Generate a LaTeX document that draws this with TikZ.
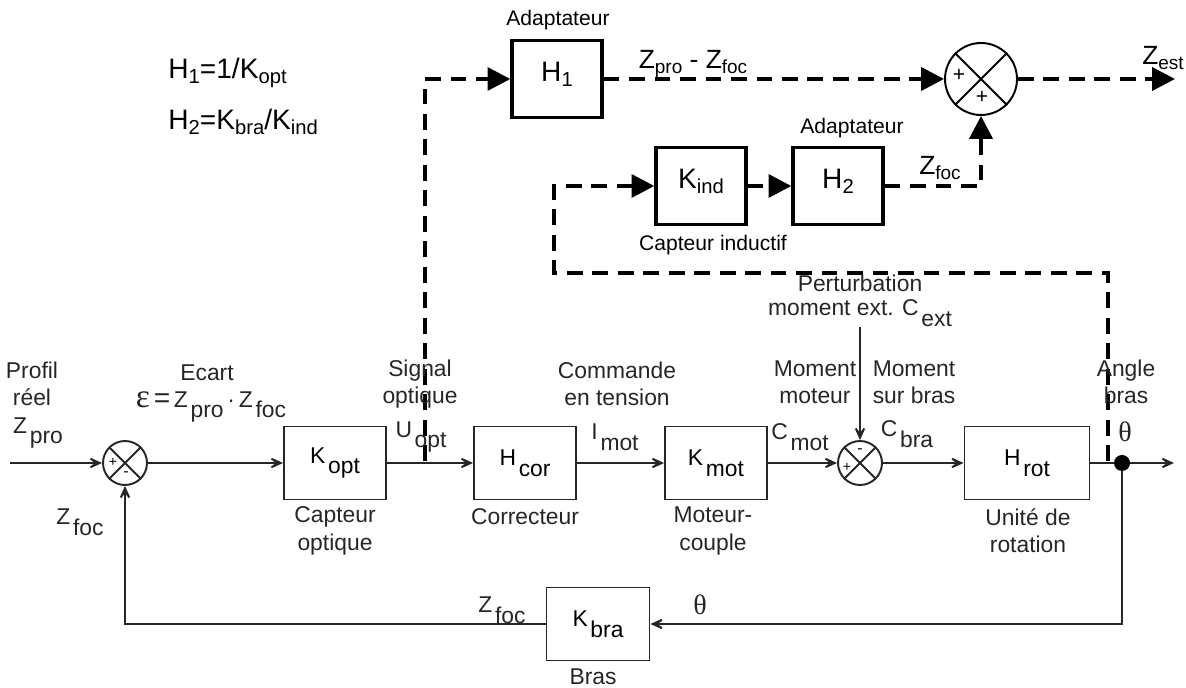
\documentclass[tikz,border=0pt]{standalone}
\usepackage{fontspec,graphicx}
\usetikzlibrary{arrows.meta}
\setmainfont{Liberation Sans}
\newfontfamily\grk{Liberation Serif}
\newcommand{\scanfont}{\fontsize{13}{15.5}\selectfont}
\newcommand{\topidx}[1]{\raisebox{-0.35ex}{\scalebox{0.72}{#1}}}
\newcommand{\basidx}[1]{\hspace{0.12em}\raisebox{-0.9ex}{#1}}

\begin{document}
\begin{tikzpicture}[x=0.02cm,y=-0.02cm,
  every node/.style={inner sep=0pt},
  topbox/.style={draw,line width=1.9pt,minimum width=1.8cm,minimum height=1.53cm,font=\fontsize{16}{18}\selectfont},
  blockbox/.style={draw=black!85,line width=1.1pt,minimum width=2.04cm,minimum height=1.46cm,font=\scanfont},
  sumtop/.style={draw,circle,line width=1.1pt,minimum size=1.44cm},
  sumbot/.style={draw=black!85,circle,line width=1.1pt,minimum size=0.88cm},
  dashlink/.style={line width=2.3pt,dash pattern=on 9pt off 5.5pt,-{Triangle[length=13pt,width=13pt]}},
  link/.style={draw=black!85,line width=1pt,-{Stealth[length=11pt,width=10pt,inset=7pt]}},
  lbl/.style={font=\scanfont,align=center,text=black!85},
  toplbl/.style={font=\fontsize{12}{14}\selectfont},
  zlbl/.style={font=\fontsize{15}{17}\selectfont}]
\useasboundingbox (0,0) rectangle (1186,688);
% estimator formulas
\node[anchor=west,font=\fontsize{16}{18}\selectfont] (hone) at (168,73) {H\topidx{1}=1/K\topidx{opt}};
\node[anchor=west,font=\fontsize{16}{18}\selectfont] (htwo) at (168,122) {H\topidx{2}=K\topidx{bra}/K\topidx{ind}};
% estimator blocks (dashed part)
\node[topbox] (h1) at (557,79) {\raisebox{1ex}{H\topidx{1}}};
\node[toplbl] (adapt1) at (558,20) {Adaptateur};
\node[sumtop] (sumz) at (981,79) {};
\draw[line width=1.1pt] (sumz.north west) -- (sumz.south east) (sumz.north east) -- (sumz.south west);
\node[font=\fontsize{12}{14}\selectfont] (pz1) at (959,75) {+};
\node[font=\fontsize{12}{14}\selectfont] (pz2) at (982,97) {+};
\node[topbox] (kind) at (701,186) {\raisebox{1ex}{K\topidx{ind}}};
\node[topbox] (h2) at (838,186) {\raisebox{1ex}{H\topidx{2}}};
\node[toplbl] (adapt2) at (852,128) {Adaptateur};
\node[toplbl] (capind) at (713,245) {Capteur inductif};
\node[zlbl] (zdiff) at (693,64) {Z\topidx{pro} - Z\topidx{foc}};
\node[zlbl] (zestl) at (1163,58) {Z\topidx{est}};
\node[zlbl] (zfoct) at (940,168) {Z\topidx{foc}};
% main loop blocks
\node[sumbot] (sum1) at (125,463) {};
\draw[black!85,line width=1.1pt] (sum1.north west) -- (sum1.south east) (sum1.north east) -- (sum1.south west);
\node[font=\fontsize{8}{9}\selectfont] (p1) at (113,462) {+};
\node[font=\fontsize{9}{9}\selectfont] (m1) at (126,474) {-};
\node[blockbox] (kopt) at (335,463) {K\basidx{opt}};
\node[blockbox] (hcor) at (525,463) {H\basidx{cor}};
\node[blockbox] (kmot) at (716,463) {K\basidx{mot}};
\node[sumbot] (sum2) at (860,463) {};
\draw[black!85,line width=1.1pt] (sum2.north west) -- (sum2.south east) (sum2.north east) -- (sum2.south west);
\node[font=\fontsize{8}{9}\selectfont] (p2) at (847,467) {+};
\node[font=\fontsize{9}{9}\selectfont] (m2) at (860,451) {-};
\node[blockbox,minimum width=2.5cm] (hrot) at (1027,463) {H\basidx{rot}};
\node[circle,fill=black,minimum size=0.32cm] (dot) at (1122,463) {};
\node[blockbox,minimum width=2.06cm] (kbra) at (598,624) {K\basidx{bra}};
% free ends
\coordinate (zin) at (10,463);
\coordinate (thout) at (1174,463);
\coordinate (cext) at (860,327);
\coordinate (uopt) at (425,461);
\coordinate (thtap) at (1108,461);
\coordinate (loopc) at (554,273);
\coordinate (zest) at (1175,79);
% main loop connectors
\draw[link] (zin) -- (sum1.west);
\draw[link] (sum1.east) -- (kopt.west);
\draw[link] (kopt.east) -- (hcor.west);
\draw[link] (hcor.east) -- (kmot.west);
\draw[link] (kmot.east) -- (sum2.west);
\draw[link] (sum2.east) -- (hrot.west);
\draw[link,-] (hrot.east) -- (dot);
\draw[link] (dot) -- (thout);
\draw[link] (cext) -- (sum2.north);
\draw[link] (dot) |- (kbra.east);
\draw[link] (kbra.west) -| (sum1.south);
% estimator connectors
\draw[dashlink] (uopt) |- (h1.west);
\draw[dashlink] (h1.east) -- (sumz.west);
\draw[dashlink] (sumz.east) -- (zest);
\draw[dashlink] (thtap) |- (loopc) |- (kind.west);
\draw[dashlink] (kind.east) -- (h2.west);
\draw[dashlink] (h2.east) -| (sumz.south);
% main loop labels
\node[lbl] (profil) at (32,384) {Profil\\réel};
\node[lbl] (zpro) at (38,433) {Z\basidx{pro}};
\node[lbl] (zfoc1) at (80,522) {Z\basidx{foc}};
\node[lbl] (ecart) at (207,373) {Ecart};
\node[lbl] (eps) at (211,407) {{\grk\fontsize{19}{19}\selectfont ε}\,{\fontsize{16}{16}\selectfont =}\,Z\basidx{pro}\,·\,Z\basidx{foc}};
\node[lbl] (signal) at (420,384) {Signal\\optique};
\node[lbl] (uoptl) at (421,437) {U\basidx{opt}};
\node[lbl] (cmde) at (617,384) {Commande\\en tension};
\node[lbl] (imot) at (615,437) {I\basidx{mot}};
\node[lbl] (mmot) at (815,382) {Moment\\moteur};
\node[lbl] (cmot) at (800,437) {C\basidx{mot}};
\node[lbl] (mbras) at (914,382) {Moment\\sur bras};
\node[lbl] (cbra) at (907,434) {C\basidx{bra}};
\node[lbl] (pert) at (860,283) {Perturbation};
\node[lbl] (mext) at (860,313) {moment ext. C\basidx{ext}};
\node[lbl] (angle) at (1126,382) {Angle\\bras};
\node[lbl,font=\grk\fontsize{16}{16}\selectfont] (th1) at (1125,432) {θ};
\node[lbl] (capopt) at (335,531) {Capteur\\optique};
\node[lbl] (corr) at (525,517) {Correcteur};
\node[lbl] (mcouple) at (713,531) {Moteur-\\couple};
\node[lbl] (urot) at (1028,531) {Unité de\\rotation};
\node[lbl] (zfoc2) at (502,610) {Z\basidx{foc}};
\node[lbl,font=\grk\fontsize{16}{16}\selectfont] (th2) at (700,605) {θ};
\node[lbl] (bras) at (593,677) {Bras};
\end{tikzpicture}
\end{document}
